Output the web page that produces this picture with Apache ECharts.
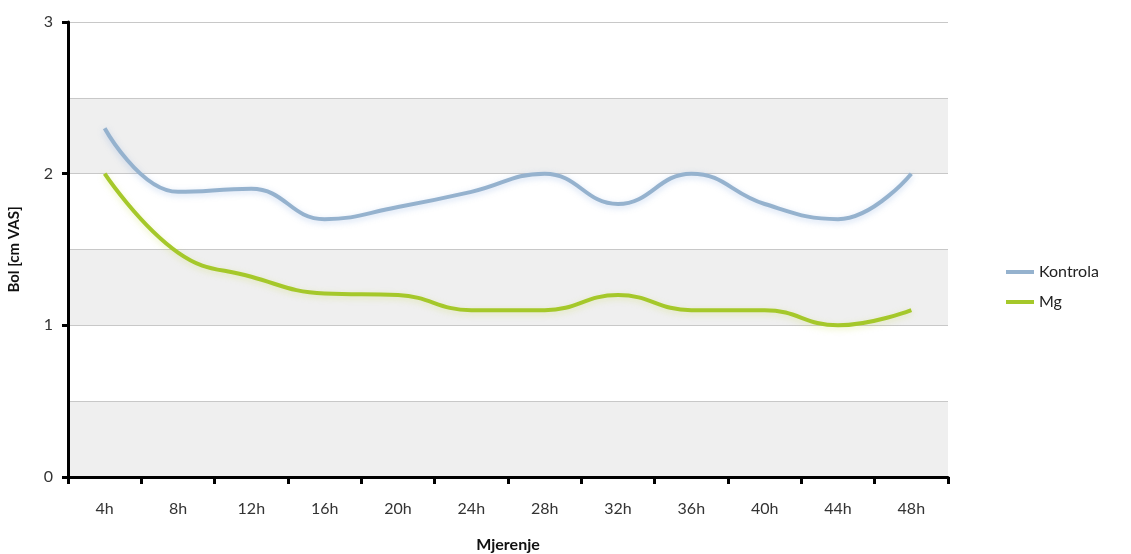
<!DOCTYPE html>
<html><head><meta charset="utf-8">
<script src="https://cdn.jsdelivr.net/npm/echarts@6/dist/echarts.min.js"></script>
<style>html,body{margin:0;padding:0;background:#fff}#c{width:1131px;height:554px}</style>
</head><body><div id="c"></div>
<script>
var categories = ['4h','8h','12h','16h','20h','24h','28h','32h','36h','40h','44h','48h'];
var kontrola = [2.3, 1.88, 1.9, 1.7, 1.78, 1.88, 2.0, 1.8, 2.0, 1.8, 1.7, 2.0];
var mg = [2.0, 1.48, 1.32, 1.21, 1.2, 1.1, 1.1, 1.2, 1.1, 1.1, 1.0, 1.1];
var yTicks = [0, 1, 2, 3];

var chart = echarts.init(document.getElementById('c'));
var font = 'Lato, "Open Sans", sans-serif';
chart.setOption({
  animation: false,
  textStyle: {fontFamily: font},
  grid: {left: 68, right: 183, top: 22, bottom: 77, containLabel: false, outerBoundsMode: 'none'},
  legend: {
    orient: 'vertical', left: 1001, top: 259, itemWidth: 28, itemHeight: 4, itemGap: 14,
    icon: 'rect',
    textStyle: {fontFamily: font, fontSize: 16, color: '#222'},
    data: ['Kontrola', 'Mg']
  },
  xAxis: {
    type: 'category', data: categories, boundaryGap: true,
    name: 'Mjerenje', nameLocation: 'middle', nameGap: 60,
    nameTextStyle: {fontFamily: font, fontSize: 16, fontWeight: 'bold', color: '#111'},
    axisLine: {lineStyle: {color: '#000', width: 3}},
    axisTick: {show: true, length: 7, lineStyle: {color: '#000', width: 3}},
    axisLabel: {fontFamily: font, fontSize: 16, color: '#333', margin: 24},
    splitLine: {show: false}
  },
  yAxis: [{
    type: 'value', min: 0, max: 3, interval: 1,
    name: 'Bol [cm VAS]', nameLocation: 'middle', nameGap: 46, nameRotate: 90,
    nameTextStyle: {fontFamily: font, fontSize: 15, fontWeight: 'bold', color: '#111'},
    axisLine: {show: true, lineStyle: {color: '#000', width: 3}},
    axisTick: {show: true, length: 6, lineStyle: {color: '#000', width: 3}},
    axisLabel: {fontFamily: font, fontSize: 16, color: '#333', margin: 15,
      formatter: function (v) { return yTicks.indexOf(v) >= 0 ? String(v) : ''; }},
    splitLine: {show: false},
    z: 5
  }, {
    type: 'value', min: 0, max: 3, interval: 0.5, position: 'left',
    axisLine: {show: false}, axisTick: {show: false}, axisLabel: {show: false},
    splitLine: {show: true, lineStyle: {color: '#c8c8c8', width: 1}},
    splitArea: {show: true, areaStyle: {color: ['#efefef', '#ffffff']}}
  }],
  series: [{
    name: 'Kontrola', type: 'line', data: kontrola, smooth: 0.45,
    symbol: 'none', yAxisIndex: 0,
    itemStyle: {color: '#95b2ce'},
    lineStyle: {color: '#95b2ce', width: 4, shadowColor: 'rgba(120,160,220,0.35)', shadowBlur: 6, shadowOffsetY: 2},
    z: 3
  }, {
    name: 'Mg', type: 'line', data: mg, smooth: 0.45,
    symbol: 'none', yAxisIndex: 0,
    itemStyle: {color: '#a5c82a'},
    lineStyle: {color: '#a5c82a', width: 4, shadowColor: 'rgba(200,220,80,0.35)', shadowBlur: 6, shadowOffsetY: 2},
    z: 3
  }]
});
</script></body></html>
